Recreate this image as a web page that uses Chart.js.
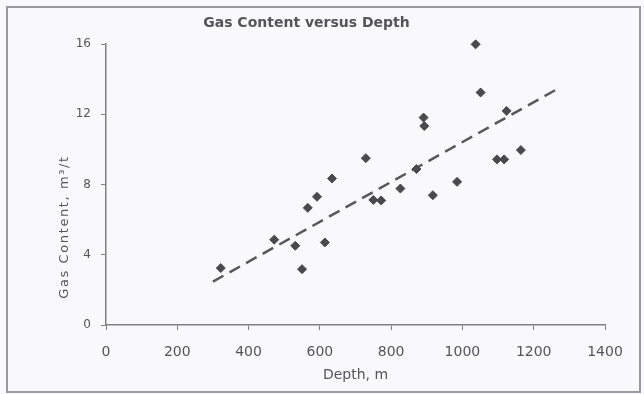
<!DOCTYPE html>
<html>
<head>
<meta charset="utf-8">
<script src="https://cdn.jsdelivr.net/npm/chart.js@4.4.1/dist/chart.umd.min.js"></script>
<style>
  html, body { margin: 0; padding: 0; background: #f9f9fb; }
  #chart { display: block; }
</style>
</head>
<body>
<canvas id="chart" width="644" height="394"></canvas>
<script>
// measured points (depth in m, gas content in m3/t)
const depth = [322, 472, 531, 550, 566, 592, 614, 634, 729, 750, 772, 826, 871, 891, 893, 917, 985, 1037, 1051, 1097, 1117, 1124, 1164];
const gas = [3.24, 4.86, 4.51, 3.18, 6.67, 7.30, 4.70, 8.34, 9.50, 7.12, 7.09, 7.77, 8.88, 11.81, 11.33, 7.39, 8.15, 15.98, 13.24, 9.43, 9.43, 12.19, 9.96];

// dashed trend line end points
const trendDepth = [300, 1277];
const trendGas = [2.47, 13.56];

const xTicks = [0, 200, 400, 600, 800, 1000, 1200, 1400];
const yTicks = [0, 4, 8, 12, 16];

const ink = "#555";

Chart.defaults.font.family = "DejaVu Sans";
Chart.defaults.color = ink;

const framePlugin = {
  id: "frame",
  beforeDraw(chart) {
    const c = chart.ctx;
    c.save();
    c.fillStyle = "#f9f9fb";
    c.fillRect(0, 0, chart.width, chart.height);
    c.strokeStyle = "#9a9a9c";
    c.lineWidth = 2;
    c.strokeRect(7, 7, 633, 385);
    c.restore();
  },
  afterDraw(chart) {
    // y axis title, placed a bit low like the original
    const c = chart.ctx;
    c.save();
    c.translate(65, 227);
    c.rotate(-Math.PI / 2);
    c.font = "13px 'DejaVu Sans'";
    c.letterSpacing = "1.6px";
    c.fillStyle = ink;
    c.textAlign = "center";
    c.textBaseline = "middle";
    c.fillText("Gas Content, m³/t", 0, 0);
    c.restore();
  }
};

new Chart(document.getElementById("chart"), {
  type: "scatter",
  data: {
    datasets: [
      {
        label: "Gas content",
        data: depth.map((d, i) => ({ x: d, y: gas[i] })),
        pointStyle: "rectRot",
        pointRadius: 4.5,
        backgroundColor: "#4a4a4c",
        borderColor: "#4a4a4c",
        borderWidth: 1,
        clip: false,
      },
      {
        label: "Trend",
        type: "line",
        data: trendDepth.map((d, i) => ({ x: d, y: trendGas[i] })),
        borderColor: "#58585a",
        borderWidth: 2.5,
        borderDash: [12, 7],
        pointRadius: 0,
        fill: false,
      },
    ],
  },
  options: {
    responsive: false,
    animation: false,
    layout: {
      padding: { left: 8, right: 39, top: 7, bottom: 8 },
    },
    plugins: {
      legend: { display: false },
      tooltip: { enabled: false },
      title: {
        display: true,
        text: "Gas Content versus Depth",
        color: ink,
        font: { size: 14, weight: "bold" },
        padding: { top: 8, bottom: 12.2 },
      },
    },
    scales: {
      x: {
        type: "linear",
        min: 0,
        max: 1400,
        afterBuildTicks: (axis) => {
          axis.ticks = xTicks.map((v) => ({ value: v }));
        },
        afterFit: (axis) => {
          axis.height = 61;
        },
        grid: { drawOnChartArea: false, drawTicks: true, tickLength: 5, color: "#808082" },
        border: { display: true, color: "#808082", width: 1.5 },
        ticks: { font: { size: 14 }, padding: 14, color: ink, callback: (v) => String(v) },
        title: {
          display: true,
          text: "Depth, m",
          color: ink,
          font: { size: 14 },
          padding: { top: 0, bottom: 2 },
        },
      },
      y: {
        type: "linear",
        min: 0,
        max: 16,
        afterBuildTicks: (axis) => {
          axis.ticks = yTicks.map((v) => ({ value: v }));
        },
        afterFit: (axis) => {
          axis.width = 98;
        },
        grid: { drawOnChartArea: false, drawTicks: true, tickLength: 5, color: "#808082" },
        border: { display: true, color: "#808082", width: 1.5 },
        ticks: { font: { size: 12 }, padding: 10, color: ink, callback: (v) => String(v) },
      },
    },
  },
  plugins: [framePlugin],
});
</script>
</body>
</html>
